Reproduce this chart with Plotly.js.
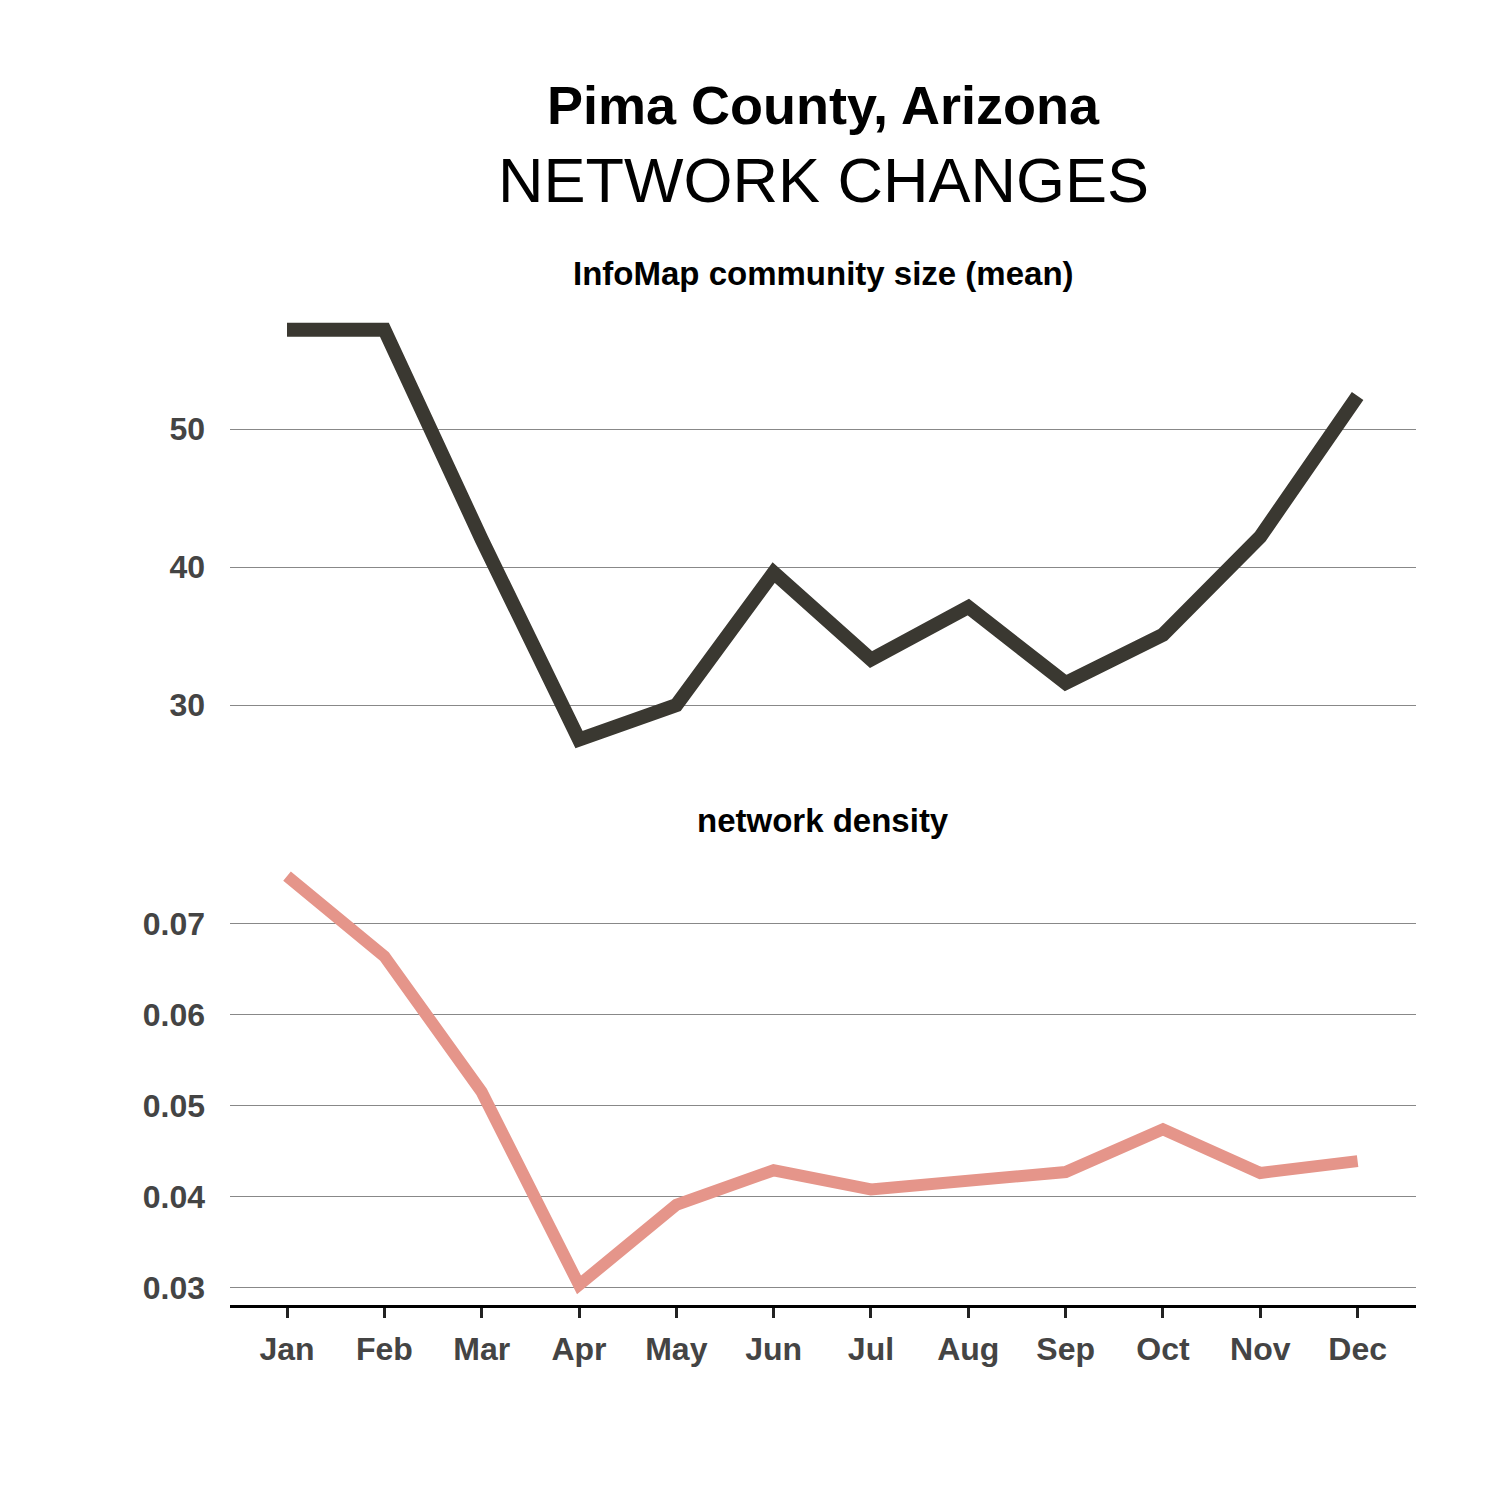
<!DOCTYPE html>
<html>
<head>
<meta charset="utf-8">
<script src="https://cdn.plot.ly/plotly-3.0.1.min.js"></script>
<style>body{margin:0;background:#fff}#graph{width:1500px;height:1500px}</style>
</head>
<body>
<div id="graph"></div>
<script>
const months = ["Jan","Feb","Mar","Apr","May","Jun","Jul","Aug","Sep","Oct","Nov","Dec"];
const communitySize = [57.2, 57.2, 42.0, 27.5, 30.0, 39.6, 33.3, 37.1, 31.6, 35.1, 42.2, 52.4];
const density = [0.0752, 0.0664, 0.0515, 0.0303, 0.0391, 0.0429, 0.0408, 0.0416, 0.0427, 0.0474, 0.0426, 0.0439];

const tickFont = { family: "Liberation Sans, Arial, sans-serif", size: 32, color: "#444", weight: "bold" };

const traces = [
  { x: months, y: communitySize, type: "scatter", mode: "lines", xaxis: "x", yaxis: "y2",
    line: { color: "#3a3831", width: 14 }, hoverinfo: "skip" },
  { x: months, y: density, type: "scatter", mode: "lines", xaxis: "x", yaxis: "y",
    line: { color: "#e5958a", width: 12 }, hoverinfo: "skip" }
];

const layout = {
  width: 1500, height: 1500,
  paper_bgcolor: "#fff", plot_bgcolor: "#fff",
  showlegend: false,
  margin: { l: 230, r: 84, t: 300, b: 195, pad: 0 },
  font: { family: "Liberation Sans, Arial, sans-serif" },
  xaxis: {
    type: "category", range: [-0.586, 11.6],
    showgrid: false, zeroline: false,
    showline: true, linecolor: "#000", linewidth: 3,
    ticks: "outside", ticklen: 10, tickwidth: 3, tickcolor: "#222",
    tickfont: tickFont, anchor: "y", ticklabelstandoff: 4
  },
  yaxis: {
    domain: [0, 0.443], range: [0.0281, 0.0770],
    tickvals: [0.03, 0.04, 0.05, 0.06, 0.07], ticktext: ["0.03","0.04","0.05","0.06","0.07"],
    gridcolor: "#888", gridwidth: 1, zeroline: false, showline: false,
    ticks: "", tickfont: tickFont, ticklabelstandoff: 24
  },
  yaxis2: {
    domain: [0.542, 1], range: [26.0, 59.35],
    tickvals: [30, 40, 50],
    gridcolor: "#888", gridwidth: 1, zeroline: false, showline: false,
    ticks: "", tickfont: tickFont, ticklabelstandoff: 24, anchor: "x"
  },
  annotations: [
    { text: "<b>Pima County, Arizona</b>", xref: "paper", yref: "paper", x: 0.5, y: (1500-105-195)/1005, yanchor: "middle",
      showarrow: false, font: { size: 54, color: "#000" } },
    { text: "NETWORK CHANGES", xref: "paper", yref: "paper", x: 0.5, y: (1500-180-195)/1005, yanchor: "middle",
      showarrow: false, font: { size: 63, color: "#000" } },
    { text: "<b>InfoMap community size (mean)</b>", xref: "paper", yref: "paper", x: 0.5, y: (1500-273-195)/1005, yanchor: "middle",
      showarrow: false, font: { size: 33, color: "#000" } },
    { text: "<b>network density</b>", xref: "paper", yref: "paper", x: 0.5, y: (1500-820-195)/1005, yanchor: "middle",
      showarrow: false, font: { size: 33, color: "#000" } }
  ]
};

Plotly.newPlot("graph", traces, layout, { staticPlot: true });
</script>
</body>
</html>
